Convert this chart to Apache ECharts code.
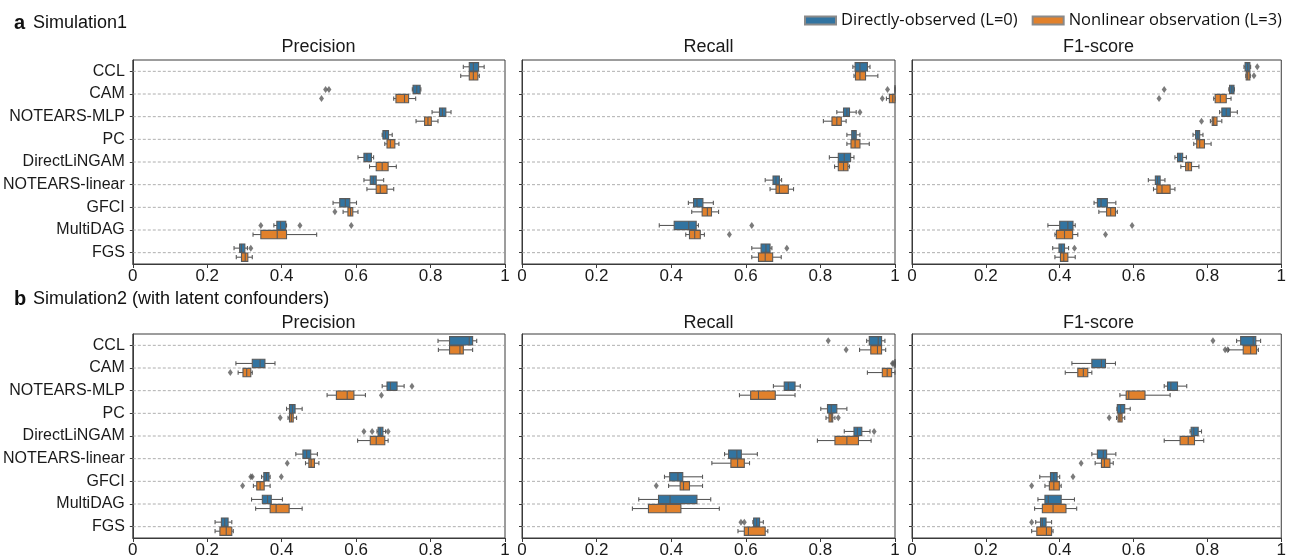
<!DOCTYPE html>
<html>
<head>
<meta charset="utf-8">
<title>Simulation boxplots</title>
<script src="https://cdn.jsdelivr.net/npm/echarts@6/dist/echarts.min.js"></script>
<style>
  html, body { margin: 0; padding: 0; background: #fff; }
  #chart { width: 1289px; height: 559px; }
</style>
</head>
<body>
<div id="chart"></div>
<script>
// categories (top to bottom)
var methods = ['CCL', 'CAM', 'NOTEARS-MLP', 'PC', 'DirectLiNGAM', 'NOTEARS-linear', 'GFCI', 'MultiDAG', 'FGS'];
var metrics = ['Precision', 'Recall', 'F1-score'];
var hueNames = ['Directly-observed (L=0)', 'Nonlinear observation (L=3)'];

// each row: [whisker low, Q1, median, Q3, whisker high]
// --- Simulation1 ---
var sim1PrecDirect = [[0.888,0.904,0.915,0.929,0.944],[0.751,0.753,0.763,0.772,0.774],[0.804,0.824,0.832,0.841,0.855],[0.670,0.672,0.679,0.687,0.697],[0.605,0.621,0.629,0.641,0.647],[0.621,0.638,0.646,0.654,0.674],[0.538,0.556,0.571,0.583,0.601],[0.379,0.387,0.397,0.411,0.413],[0.272,0.287,0.292,0.301,0.308]];
var sim1PrecNonlin = [[0.881,0.904,0.915,0.927,0.931],[0.701,0.707,0.730,0.741,0.760],[0.761,0.784,0.793,0.802,0.820],[0.677,0.683,0.692,0.704,0.715],[0.636,0.654,0.670,0.686,0.708],[0.629,0.654,0.665,0.683,0.701],[0.565,0.578,0.585,0.591,0.605],[0.323,0.344,0.388,0.413,0.494],[0.278,0.292,0.302,0.309,0.321]];
var sim1RecDirect = [[0.887,0.893,0.906,0.926,0.933],[1,1,1,1,1],[0.844,0.862,0.871,0.878,0.896],[0.871,0.884,0.890,0.896,0.906],[0.824,0.848,0.864,0.881,0.890],[0.652,0.673,0.681,0.690,0.696],[0.446,0.460,0.469,0.485,0.513],[0.368,0.408,0.447,0.467,0.473],[0.616,0.641,0.654,0.665,0.670]];
var sim1RecNonlin = [[0.890,0.894,0.906,0.921,0.954],[0.977,0.985,0.994,1,1],[0.808,0.831,0.844,0.856,0.869],[0.871,0.882,0.893,0.906,0.931],[0.838,0.848,0.862,0.874,0.878],[0.665,0.681,0.690,0.714,0.728],[0.455,0.483,0.497,0.508,0.527],[0.439,0.449,0.463,0.478,0.489],[0.616,0.634,0.652,0.672,0.695]];
var sim1F1Direct = [[0.899,0.902,0.909,0.915,0.917],[0.858,0.860,0.866,0.872,0.873],[0.833,0.839,0.851,0.862,0.881],[0.761,0.768,0.774,0.779,0.788],[0.712,0.719,0.726,0.733,0.743],[0.640,0.659,0.665,0.672,0.685],[0.493,0.502,0.512,0.529,0.552],[0.368,0.400,0.422,0.436,0.442],[0.381,0.398,0.404,0.413,0.424]];
var sim1F1Nonlin = [[0.904,0.905,0.909,0.915,0.916],[0.817,0.821,0.835,0.851,0.864],[0.808,0.813,0.817,0.826,0.839],[0.763,0.771,0.779,0.792,0.810],[0.728,0.741,0.748,0.757,0.777],[0.654,0.663,0.677,0.699,0.712],[0.506,0.527,0.538,0.551,0.556],[0.387,0.391,0.413,0.435,0.449],[0.387,0.402,0.411,0.422,0.442]];

// outliers: [category index, value]
var sim1PrecDirectOut = [[1,0.518],[1,0.527],[7,0.344],[7,0.449],[7,0.587],[8,0.317]];
var sim1PrecNonlinOut = [[1,0.507],[6,0.543]];
var sim1RecDirectOut = [[1,0.980],[2,0.906],[7,0.616],[8,0.710]];
var sim1RecNonlinOut = [[1,0.966],[7,0.556]];
var sim1F1DirectOut = [[0,0.935],[1,0.683],[7,0.596],[8,0.440]];
var sim1F1NonlinOut = [[0,0.926],[1,0.669],[2,0.784],[7,0.524]];

// --- Simulation2 ---
var sim2PrecDirect = [[0.820,0.851,0.904,0.913,0.924],[0.277,0.321,0.342,0.355,0.382],[0.670,0.683,0.692,0.710,0.729],[0.413,0.421,0.429,0.436,0.455],[0.656,0.659,0.665,0.672,0.679],[0.438,0.457,0.467,0.478,0.496],[0.346,0.352,0.359,0.366,0.369],[0.319,0.348,0.362,0.372,0.402],[0.221,0.238,0.247,0.256,0.266]];
var sim2PrecNonlin = [[0.821,0.851,0.879,0.888,0.913],[0.283,0.296,0.306,0.317,0.321],[0.522,0.547,0.576,0.594,0.625],[0.417,0.421,0.426,0.431,0.440],[0.604,0.638,0.654,0.677,0.686],[0.464,0.473,0.479,0.488,0.500],[0.324,0.333,0.342,0.353,0.369],[0.330,0.369,0.385,0.420,0.455],[0.221,0.234,0.251,0.266,0.270]];
var sim2RecDirect = [[0.924,0.931,0.955,0.964,0.973],[1,1,1,1,1],[0.674,0.703,0.714,0.732,0.746],[0.801,0.819,0.829,0.844,0.871],[0.864,0.890,0.899,0.911,0.933],[0.543,0.554,0.576,0.588,0.631],[0.382,0.396,0.418,0.431,0.484],[0.313,0.366,0.397,0.469,0.506],[0.619,0.621,0.629,0.637,0.647]];
var sim2RecNonlin = [[0.905,0.935,0.953,0.964,0.975],[0.926,0.966,0.979,0.991,1],[0.583,0.613,0.634,0.679,0.732],[0.815,0.823,0.829,0.833,0.839],[0.792,0.839,0.871,0.902,0.936],[0.509,0.560,0.578,0.596,0.610],[0.393,0.424,0.433,0.449,0.484],[0.296,0.339,0.386,0.426,0.529],[0.579,0.596,0.607,0.652,0.659]];
var sim2F1Direct = [[0.879,0.890,0.924,0.931,0.944],[0.433,0.487,0.513,0.524,0.551],[0.683,0.692,0.701,0.719,0.744],[0.555,0.556,0.565,0.576,0.591],[0.753,0.756,0.763,0.775,0.784],[0.487,0.502,0.518,0.527,0.552],[0.346,0.375,0.384,0.393,0.400],[0.341,0.360,0.369,0.404,0.440],[0.335,0.348,0.353,0.363,0.378]];
var sim2F1Nonlin = [[0.857,0.897,0.917,0.933,0.938],[0.415,0.449,0.464,0.476,0.487],[0.563,0.580,0.587,0.631,0.699],[0.554,0.558,0.563,0.569,0.576],[0.683,0.726,0.748,0.765,0.790],[0.496,0.513,0.521,0.536,0.545],[0.360,0.372,0.384,0.399,0.404],[0.332,0.353,0.382,0.417,0.446],[0.324,0.338,0.364,0.378,0.382]];

var sim2PrecDirectOut = [[2,0.750],[4,0.621],[4,0.643],[4,0.686],[6,0.317],[6,0.321],[6,0.399]];
var sim2PrecNonlinOut = [[1,0.262],[2,0.668],[3,0.396],[5,0.415],[6,0.295]];
var sim2RecDirectOut = [[0,0.821],[1,0.993],[1,0.996],[4,0.944],[8,0.587],[8,0.596]];
var sim2RecNonlinOut = [[0,0.869],[3,0.848],[6,0.360]];
var sim2F1DirectOut = [[0,0.815],[6,0.436],[8,0.324]];
var sim2F1NonlinOut = [[0,0.848],[0,0.855],[3,0.534],[5,0.458],[6,0.324]];

var BLUE = '#3274a1', ORANGE = '#e1812c', EDGE = '#5a5a5a';
var FONT = '"Liberation Sans", Arial, sans-serif';

var panels = [
    { title: 'Precision', box: [sim1PrecDirect, sim1PrecNonlin], out: [sim1PrecDirectOut, sim1PrecNonlinOut] },
    { title: 'Recall',    box: [sim1RecDirect, sim1RecNonlin],   out: [sim1RecDirectOut, sim1RecNonlinOut] },
    { title: 'F1-score',  box: [sim1F1Direct, sim1F1Nonlin],     out: [sim1F1DirectOut, sim1F1NonlinOut] },
    { title: 'Precision', box: [sim2PrecDirect, sim2PrecNonlin], out: [sim2PrecDirectOut, sim2PrecNonlinOut] },
    { title: 'Recall',    box: [sim2RecDirect, sim2RecNonlin],   out: [sim2RecDirectOut, sim2RecNonlinOut] },
    { title: 'F1-score',  box: [sim2F1Direct, sim2F1Nonlin],     out: [sim2F1DirectOut, sim2F1NonlinOut] }
];

var gridLefts = [132, 522, 912];
var gridWidth = 373;
var rowTops = [60, 334];
var gridHeight = 204;

function renderBox(side, fill) {
    return function (params, api) {
        var cat = api.value(0);
        var bh = api.size([0, 1])[1];
        var cy = api.coord([0, cat])[1] + side * bh * 0.2;
        var half = bh * 0.185;
        var cap = half * 0.5;
        var xs = [1, 2, 3, 4, 5].map(function (d) { return api.coord([api.value(d), cat])[0]; });
        var ls = { stroke: EDGE, lineWidth: 1.1 };
        return {
            type: 'group',
            children: [
                { type: 'line', shape: { x1: xs[0], y1: cy, x2: xs[1], y2: cy }, style: ls },
                { type: 'line', shape: { x1: xs[3], y1: cy, x2: xs[4], y2: cy }, style: ls },
                { type: 'line', shape: { x1: xs[0], y1: cy - cap, x2: xs[0], y2: cy + cap }, style: ls },
                { type: 'line', shape: { x1: xs[4], y1: cy - cap, x2: xs[4], y2: cy + cap }, style: ls },
                { type: 'rect', shape: { x: xs[1], y: cy - half, width: xs[3] - xs[1], height: half * 2 },
                  style: { fill: fill, stroke: EDGE, lineWidth: 1.1 } },
                { type: 'line', shape: { x1: xs[2], y1: cy - half, x2: xs[2], y2: cy + half }, style: ls }
            ]
        };
    };
}

function renderGuide(params, api) {
    var a = api.coord([0, api.value(0)]);
    var b = api.coord([1, api.value(0)]);
    return {
        type: 'line',
        shape: { x1: a[0], y1: a[1], x2: b[0], y2: b[1] },
        style: { stroke: '#9a9a9a', lineWidth: 0.8, lineDash: [3, 2] }
    };
}

var grids = [], xAxes = [], yAxes = [], series = [], texts = [];

panels.forEach(function (p, k) {
    var col = k % 3, row = Math.floor(k / 3);
    grids.push({
        left: gridLefts[col], top: rowTops[row], width: gridWidth, height: gridHeight,
        show: true, borderColor: '#3a3a3a', borderWidth: 1, backgroundColor: '#fff'
    });
    xAxes.push({
        type: 'value', gridIndex: k, min: 0, max: 1, interval: 0.2,
        axisLine: { show: true, lineStyle: { color: '#3a3a3a' } },
        axisTick: { show: true, length: 4, lineStyle: { color: '#3a3a3a' } },
        axisLabel: { fontSize: 17, color: '#1a1a1a', fontFamily: FONT, margin: 4 },
        splitLine: { show: false }
    });
    yAxes.push({
        type: 'category', gridIndex: k, data: methods, inverse: true,
        axisLine: { show: true, lineStyle: { color: '#3a3a3a' } },
        axisTick: { show: true, alignWithLabel: true, length: 3, lineStyle: { color: '#3a3a3a' } },
        axisLabel: { show: col === 0, fontSize: 16, color: '#1a1a1a', fontFamily: FONT, margin: 8 },
        splitLine: { show: false }
    });

    series.push({
        type: 'custom', xAxisIndex: k, yAxisIndex: k, silent: true, z: 1,
        data: methods.map(function (m, i) { return [i]; }),
        encode: { y: 0 },
        renderItem: renderGuide
    });

    [0, 1].forEach(function (h) {
        var side = h === 0 ? -1 : 1;
        var fill = h === 0 ? BLUE : ORANGE;
        series.push({
            name: hueNames[h], type: 'custom', xAxisIndex: k, yAxisIndex: k, z: 3,
            itemStyle: { color: fill, borderColor: '#8a8a8a', borderWidth: 1 },
            data: p.box[h].map(function (r, i) { return [i].concat(r); }),
            encode: { x: [1, 2, 3, 4, 5], y: 0 },
            renderItem: renderBox(side, fill)
        });
        series.push({
            name: 'outliers', type: 'scatter', xAxisIndex: k, yAxisIndex: k, z: 4,
            symbol: 'diamond', symbolSize: [5, 7], symbolOffset: [0, side * 4.5],
            itemStyle: { color: EDGE },
            data: p.out[h].map(function (o) { return [o[1], o[0]]; })
        });
    });

    texts.push({
        type: 'text', x: gridLefts[col] + gridWidth / 2, y: row === 0 ? 47 : 323,
        style: { text: p.title, fontSize: 18, fontFamily: FONT, fill: '#1a1a1a', align: 'center', verticalAlign: 'middle' }
    });
});

texts.push(
    { type: 'text', x: 14, y: 23, style: { text: 'a', fontSize: 20, fontWeight: 'bold', fontFamily: FONT, fill: '#111', verticalAlign: 'middle' } },
    { type: 'text', x: 33, y: 23, style: { text: 'Simulation1', fontSize: 18, fontFamily: FONT, fill: '#111', verticalAlign: 'middle' } },
    { type: 'text', x: 14, y: 299, style: { text: 'b', fontSize: 20, fontWeight: 'bold', fontFamily: FONT, fill: '#111', verticalAlign: 'middle' } },
    { type: 'text', x: 33, y: 299, style: { text: 'Simulation2 (with latent confounders)', fontSize: 18, fontFamily: FONT, fill: '#111', verticalAlign: 'middle' } }
);

var chart = echarts.init(document.getElementById('chart'), null, { renderer: 'canvas' });
chart.setOption({
    animation: false,
    backgroundColor: '#fff',
    legend: {
        data: hueNames, left: 804, top: 12, padding: 0, width: 485, icon: 'rect',
        itemWidth: 31, itemHeight: 8, itemGap: 14,
        selectedMode: false,
        textStyle: { fontSize: 16.5, fontFamily: '"Open Sans", "Noto Sans", sans-serif', color: '#111' }
    },
    grid: grids,
    xAxis: xAxes,
    yAxis: yAxes,
    series: series,
    graphic: texts
});
</script>
</body>
</html>
